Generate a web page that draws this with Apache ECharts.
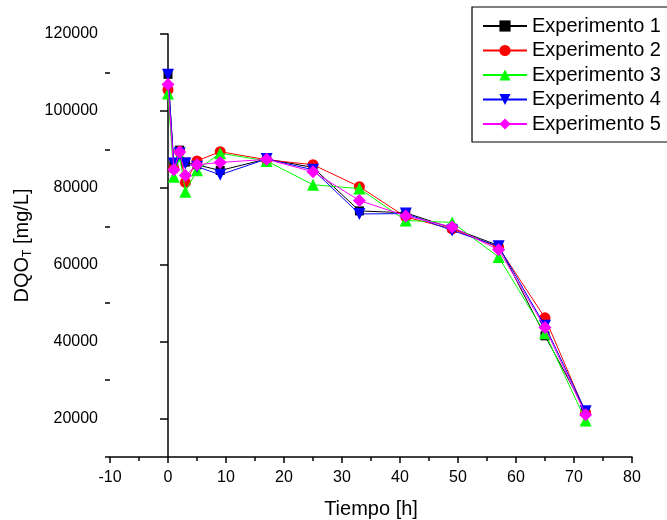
<!DOCTYPE html>
<html>
<head>
<meta charset="utf-8">
<script src="https://cdn.jsdelivr.net/npm/echarts@6/dist/echarts.min.js"></script>
<style>html,body{margin:0;padding:0;background:#fff}#c{width:667px;height:520px}</style>
</head>
<body>
<div id="c"></div>
<script>
const hours = [0, 1, 2, 3, 5, 9, 17, 25, 33, 41, 49, 57, 65, 72];
const exp1 = [109500, 86000, 89800, 86700, 86000, 84500, 87500, 85300, 74000, 73500, 69500, 65000, 41500, 22000];
const exp2 = [105500, 85000, 89500, 81400, 87000, 89400, 87300, 86000, 80300, 72400, 69300, 64500, 46200, 21500];
const exp3 = [104500, 82900, 88300, 79000, 84600, 89000, 87000, 80800, 79800, 71500, 71000, 62000, 42200, 19500];
const exp4 = [109400, 86300, 89000, 86300, 85500, 83400, 87500, 84700, 73200, 73300, 68900, 64800, 44100, 21900];
const exp5 = [106900, 84700, 89300, 83200, 86000, 86600, 87400, 84200, 76700, 72700, 69800, 63900, 43700, 21000];
const seriesNames = ['Experimento 1', 'Experimento 2', 'Experimento 3', 'Experimento 4', 'Experimento 5'];
const yMajorTicks = [20000, 40000, 60000, 80000, 100000, 120000];
const yMinorTicks = [10000, 30000, 50000, 70000, 90000, 110000];

const font = 'Liberation Sans, Arial, sans-serif';
const colors = ['#000000', '#ff0000', '#00ff00', '#0000ff', '#ff00ff'];
const symbols = ['rect', 'circle', 'triangle', 'triangle', 'diamond'];
const sizes = [9, 11, 12, 12, 13];
const rotates = [0, 0, 0, 180, 0];
const all = [exp1, exp2, exp3, exp4, exp5];

const chart = echarts.init(document.getElementById('c'));
chart.setOption({
  animation: false,
  textStyle: { fontFamily: font },
  grid: { left: 110, right: 35, top: 34, bottom: 63, containLabel: false, outerBoundsMode: 'none' },
  legend: {
    left: 472, top: 7,
    orient: 'vertical',
    borderColor: '#000', borderWidth: 1.2,
    padding: [9, 60, 8, 10],
    itemWidth: 44, itemHeight: 14, itemGap: 4.5,
    textStyle: { fontFamily: font, fontSize: 20, color: '#000' },
    data: seriesNames
  },
  xAxis: {
    type: 'value', min: -10, max: 80, interval: 10,
    name: 'Tiempo [h]', nameLocation: 'middle', nameGap: 42,
    nameTextStyle: { fontFamily: font, fontSize: 20, color: '#000' },
    axisLine: { lineStyle: { color: '#000', width: 1.5 } },
    axisTick: { show: true, inside: false, length: 6, lineStyle: { color: '#000', width: 1.5 } },
    minorTick: { show: true, splitNumber: 2, length: 4, lineStyle: { color: '#000', width: 1.5 } },
    axisLabel: { fontFamily: font, fontSize: 16, color: '#000', margin: 13 },
    splitLine: { show: false }, minorSplitLine: { show: false }
  },
  yAxis: [{
    type: 'value', min: 10000, max: 120000, interval: 10000,
    name: 'DQO{sub|T} [mg/L]', nameLocation: 'middle', nameGap: 76, nameRotate: 90,
    nameTextStyle: { fontFamily: font, fontSize: 20, color: '#000',
      rich: { sub: { fontFamily: font, fontSize: 12, color: '#000', verticalAlign: 'bottom', padding: [10, 0, 0, 0] } } },
    axisLine: { show: true, lineStyle: { color: '#000', width: 1.5 } },
    axisTick: { show: true, length: 8, customValues: yMajorTicks, lineStyle: { color: '#000', width: 1.5 } },
    axisLabel: { fontFamily: font, fontSize: 16, color: '#000', margin: 12, customValues: yMajorTicks,
      formatter: v => String(v) },
    splitLine: { show: false }
  }, {
    type: 'value', min: 10000, max: 120000, interval: 10000, position: 'left',
    axisLine: { show: false },
    axisTick: { show: true, length: 5, customValues: yMinorTicks, lineStyle: { color: '#000', width: 1.5 } },
    axisLabel: { show: false },
    splitLine: { show: false }
  }],
  series: all.map((vals, i) => ({
    name: seriesNames[i],
    type: 'line',
    data: hours.map((h, j) => [h, vals[j]]),
    symbol: symbols[i], symbolSize: sizes[i], symbolRotate: rotates[i],
    showAllSymbol: true,
    itemStyle: { color: colors[i] },
    lineStyle: { color: colors[i], width: 1 },
    z: 2 + i
  }))
});
</script>
</body>
</html>
